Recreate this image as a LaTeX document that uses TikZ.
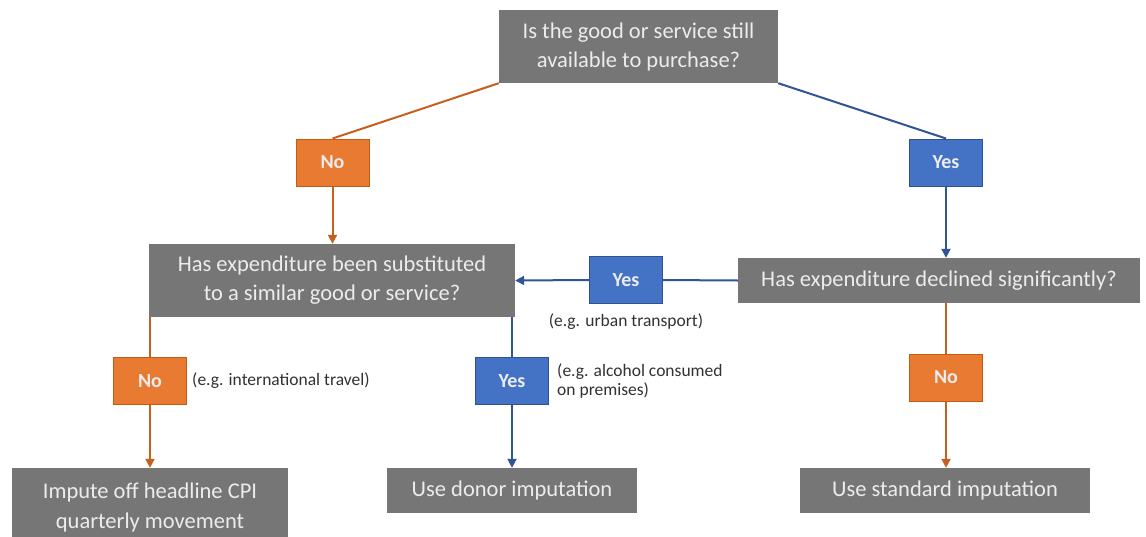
\documentclass[tikz,border=0pt]{standalone}
\usepackage{fontspec}
\setmainfont{Carlito}
\usetikzlibrary{arrows.meta}
\definecolor{boxgray}{RGB}{118,118,118}
\definecolor{boxtext}{RGB}{236,236,236}
\definecolor{ofill}{RGB}{232,122,50}
\definecolor{oedge}{RGB}{197,90,17}
\definecolor{bfill}{RGB}{68,114,196}
\definecolor{bedge}{RGB}{47,82,143}
\definecolor{oline}{RGB}{197,96,30}
\definecolor{bline}{RGB}{47,85,151}
\definecolor{notetext}{RGB}{50,50,50}
\begin{document}
\begin{tikzpicture}[x=1pt,y=-1pt,
  qbox/.style={fill=boxgray, text=boxtext, inner sep=0pt, align=center,
    font=\fontsize{22.5}{29}\selectfont},
  nobox/.style={fill=ofill, draw=oedge, line width=1pt, text=boxtext, inner sep=0pt,
    minimum width=73pt, minimum height=47pt, font=\fontsize{20}{24}\selectfont\bfseries},
  yesbox/.style={fill=bfill, draw=bedge, line width=1pt, text=boxtext, inner sep=0pt,
    minimum width=73pt, minimum height=47pt, font=\fontsize{20}{24}\selectfont\bfseries},
  note/.style={text=notetext, inner sep=0pt, font=\fontsize{17.5}{19}\selectfont},
  oconn/.style={draw=oline, line width=2pt},
  bconn/.style={draw=bline, line width=2pt},
  oarrow/.style={oconn, -{Triangle[width=9pt,length=9pt]}},
  barrow/.style={bconn, -{Triangle[width=9pt,length=9pt]}}
]
\useasboundingbox (0,0) rectangle (1146,536);
\clip (0,0) rectangle (1146,536);
\fill[white] (0,0) rectangle (1146,536);

\node[qbox, minimum width=279pt, minimum height=73pt] (top) at (638.5,46.5)
  {Is the good or service still\\available to purchase?};
\node[nobox] (no1) at (332.5,162.5) {No};
\node[yesbox] (yes1) at (946,162.5) {Yes};
\node[qbox, minimum width=366pt, minimum height=73pt] (sub) at (332,280.5)
  {Has expenditure been substituted\\to a similar good or service?};
\node[qbox, minimum width=402pt, minimum height=45pt] (dec) at (939,280.5)
  {Has expenditure declined significantly?};
\node[yesbox] (yes2) at (626,280) {Yes};
\node[note] (n1) at (626,322) {(e.g. urban transport)};
\node[nobox] (no2) at (150,381) {No};
\node[note, anchor=west] (n2) at (192,381) {(e.g. international travel)};
\node[yesbox] (yes3) at (512,381) {Yes};
\node[note, anchor=west, align=left] (n3) at (557,381) {(e.g. alcohol consumed\\on premises)};
\node[nobox] (no3) at (946,377.5) {No};
\node[qbox, minimum width=276pt, minimum height=78pt,
  font=\fontsize{22.5}{30}\selectfont] (imp) at (150,507)
  {Impute off headline CPI\\quarterly movement};
\node[qbox, minimum width=250pt, minimum height=45pt] (don) at (512,490.5)
  {Use donor imputation};
\node[qbox, minimum width=290pt, minimum height=45pt] (std) at (945,490.5)
  {Use standard imputation};

\draw[oconn] (top.south west) -- (no1.north);
\draw[bconn] (top.south east) -- (yes1.north);
\draw[oarrow] (no1.south) -- (no1.south |- sub.north);
\draw[barrow] (yes1.south) -- (yes1.south |- dec.north);
\draw[bconn] (dec.west) -- (yes2.east);
\draw[barrow] (yes2.west) -- (sub.east);
\draw[oconn] (no2.north |- sub.south) -- (no2.north);
\draw[bconn] (yes3.north |- sub.south) -- (yes3.north);
\draw[oarrow] (no2.south) -- (no2.south |- imp.north);
\draw[barrow] (yes3.south) -- (yes3.south |- don.north);
\draw[oconn] (no3.north |- dec.south) -- (no3.north);
\draw[oarrow] (no3.south) -- (no3.south |- std.north);
\end{tikzpicture}
\end{document}
